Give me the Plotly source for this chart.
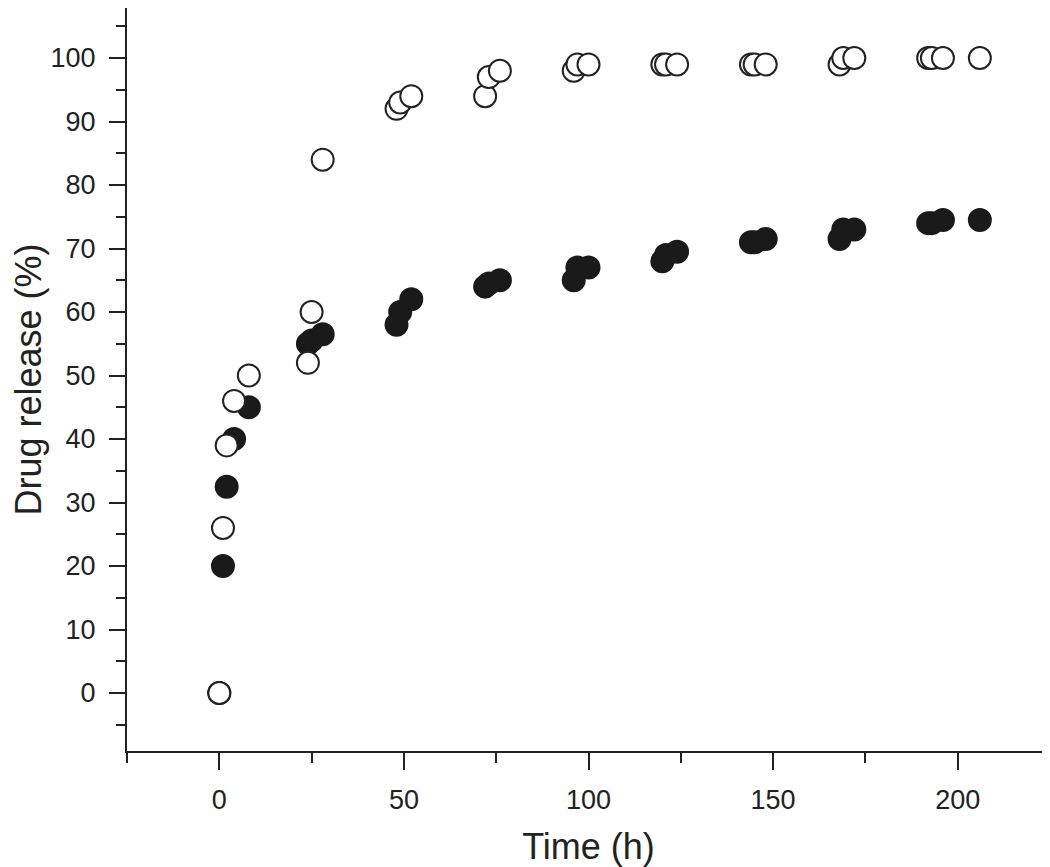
import plotly.graph_objects as go

# Filled circles series
t_filled = [0, 1, 2, 4, 8, 24, 25, 28, 48, 49, 52, 72, 73, 76, 96, 97, 100,
            120, 121, 124, 144, 145, 148, 168, 169, 172, 192, 193, 196, 206]
r_filled = [0, 20, 32.5, 40, 45, 55, 55.5, 56.5, 58, 60, 62, 64, 64.5, 65, 65, 67, 67,
            68, 69, 69.5, 71, 71, 71.5, 71.5, 73, 73, 74, 74, 74.5, 74.5]

# Open circles series
t_open = [0, 1, 2, 4, 8, 24, 25, 28, 48, 49, 52, 72, 73, 76, 96, 97, 100,
          120, 121, 124, 144, 145, 148, 168, 169, 172, 192, 193, 196, 206]
r_open = [0, 26, 39, 46, 50, 52, 60, 84, 92, 93, 94, 94, 97, 98, 98, 99, 99,
          99, 99, 99, 99, 99, 99, 99, 100, 100, 100, 100, 100, 100]

x_ticks = [0, 50, 100, 150, 200]
y_ticks = [0, 10, 20, 30, 40, 50, 60, 70, 80, 90, 100]

fig = go.Figure()
fig.add_trace(go.Scatter(
    x=t_filled, y=r_filled, mode="markers",
    marker=dict(symbol="circle", size=22, color="#1a1a1a",
                line=dict(color="#1a1a1a", width=2)),
    showlegend=False, cliponaxis=False))
fig.add_trace(go.Scatter(
    x=t_open, y=r_open, mode="markers",
    marker=dict(symbol="circle", size=22, color="white",
                line=dict(color="#222222", width=2)),
    showlegend=False, cliponaxis=False))

font_family = "Liberation Sans, Arial, sans-serif"

fig.update_layout(
    width=1042, height=859,
    margin=dict(l=119, r=0, t=0, b=116),
    plot_bgcolor="white", paper_bgcolor="white",
    font=dict(family=font_family, color="#222222", size=27),
    xaxis=dict(
        range=[-25, 225], tickvals=x_ticks, ticktext=[str(v) for v in x_ticks],
        showgrid=False, zeroline=False, automargin=False,
        showline=True, linecolor="#222222", linewidth=2,
        ticks="outside", ticklen=17, tickwidth=2, tickcolor="#222222",
        minor=dict(dtick=25, tick0=0, ticks="outside", ticklen=10, tickwidth=2, tickcolor="#222222"),
        tickfont=dict(size=27), ticklabelstandoff=7,
        title=dict(text="Time (h)", font=dict(size=36), standoff=22),
    ),
    yaxis=dict(
        range=[-9.13, 107.88], tickvals=y_ticks, ticktext=[str(v) for v in y_ticks],
        showgrid=False, zeroline=False, automargin=False,
        showline=True, linecolor="#222222", linewidth=2,
        ticks="outside", ticklen=16, tickwidth=2, tickcolor="#222222",
        minor=dict(dtick=5, tick0=0, ticks="outside", ticklen=9, tickwidth=2, tickcolor="#222222"),
        tickfont=dict(size=27), ticklabelstandoff=8,
        title=dict(text="Drug release (%)", font=dict(size=36), standoff=22),
    ),
)

fig.write_html("out.html")
